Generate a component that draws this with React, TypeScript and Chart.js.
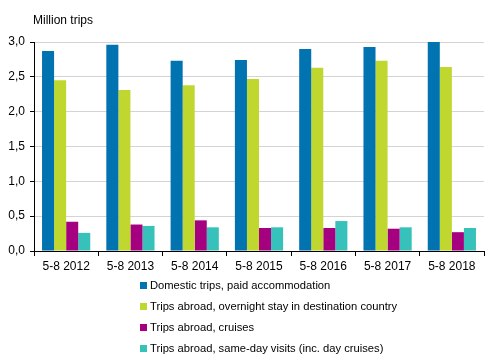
import React, { useEffect, useRef } from "react";
import { Chart, registerables } from "chart.js";

Chart.register(...registerables);

const categories = ["5-8 2012", "5-8 2013", "5-8 2014", "5-8 2015", "5-8 2016", "5-8 2017", "5-8 2018"];
const domestic = [2.87, 2.96, 2.73, 2.74, 2.9, 2.93, 3.0];
const abroadOvernight = [2.45, 2.31, 2.38, 2.47, 2.63, 2.73, 2.64];
const abroadCruises = [0.42, 0.38, 0.44, 0.33, 0.33, 0.32, 0.27];
const abroadSameDay = [0.26, 0.36, 0.34, 0.34, 0.43, 0.34, 0.33];
const seriesNames = [
  "Domestic trips, paid accommodation",
  "Trips abroad, overnight stay in destination country",
  "Trips abroad, cruises",
  "Trips abroad, same-day visits (inc. day cruises)",
];
const colors = ["#0073B0", "#C0D72F", "#A5007F", "#36C1BA"];
const yTicks = [0, 0.5, 1, 1.5, 2, 2.5, 3];
const yTitle = "Million trips";

const FONT = "'Liberation Sans', Arial, sans-serif";

const extrasPlugin = {
  id: "extras",
  afterDraw(chart: any) {
    const ctx = chart.ctx;
    ctx.save();
    ctx.fillStyle = "#000";
    ctx.font = `12px ${FONT}`;
    ctx.textBaseline = "middle";
    ctx.textAlign = "left";
    ctx.fillText(yTitle, 33, 21);
    chart.data.datasets.forEach((ds: any, i: number) => {
      const y = 286 + i * 21;
      ctx.fillStyle = ds.backgroundColor;
      ctx.fillRect(140, y - 4, 7, 7);
      ctx.fillStyle = "#000";
      ctx.font = `11.2px ${FONT}`;
      ctx.fillText(ds.label, 150, y);
    });
    ctx.restore();
  },
};

export default function App() {
  const ref = useRef<HTMLCanvasElement>(null);
  useEffect(() => {
    if (!ref.current) return;
    const data = [domestic, abroadOvernight, abroadCruises, abroadSameDay];
    const chart = new Chart(ref.current, {
      type: "bar",
      data: {
        labels: categories,
        datasets: data.map((d, i) => ({
          label: seriesNames[i],
          data: d,
          backgroundColor: colors[i],
          borderWidth: 0,
          categoryPercentage: 0.75,
          barPercentage: 1.0,
        })),
      },
      options: {
        animation: false,
        responsive: false,
        maintainAspectRatio: false,
        layout: { padding: { left: 0, top: 42, right: 7, bottom: 0 } },
        plugins: {
          legend: { display: false },
          tooltip: { enabled: false },
          title: { display: false },
        },
        scales: {
          x: {
            afterFit: (s: any) => { s.height = 108; },
            grid: {
              display: true,
              drawOnChartArea: false,
              offset: true,
              tickLength: 5,
              tickColor: "#000",
              color: "#000",
            },
            border: { display: true, color: "#000", width: 1 },
            ticks: {
              color: "#000",
              font: { family: FONT, size: 12 },
              padding: 3,
              maxRotation: 0,
            },
          },
          y: {
            min: 0,
            max: 3,
            afterFit: (s: any) => { s.width = 34; },
            afterBuildTicks: (s: any) => { s.ticks = yTicks.map((v) => ({ value: v })); },
            grid: {
              color: "#D4D4D4",
              tickColor: "#000",
              tickLength: 4,
              lineWidth: 1,
            },
            border: { display: true, color: "#000", width: 1 },
            ticks: {
              color: "#000",
              font: { family: FONT, size: 12 },
              padding: 5,
              callback: (v: any) => Number(v).toFixed(1).replace(".", ","),
            },
          },
        },
      },
      plugins: [extrasPlugin],
    });
    return () => chart.destroy();
  }, []);
  return (
    <div style={{ position: "fixed", left: 0, top: 0, width: 491, height: 359, background: "#fff" }}>
      <canvas ref={ref} width={491} height={359} style={{ width: 491, height: 359 }} />
    </div>
  );
}
